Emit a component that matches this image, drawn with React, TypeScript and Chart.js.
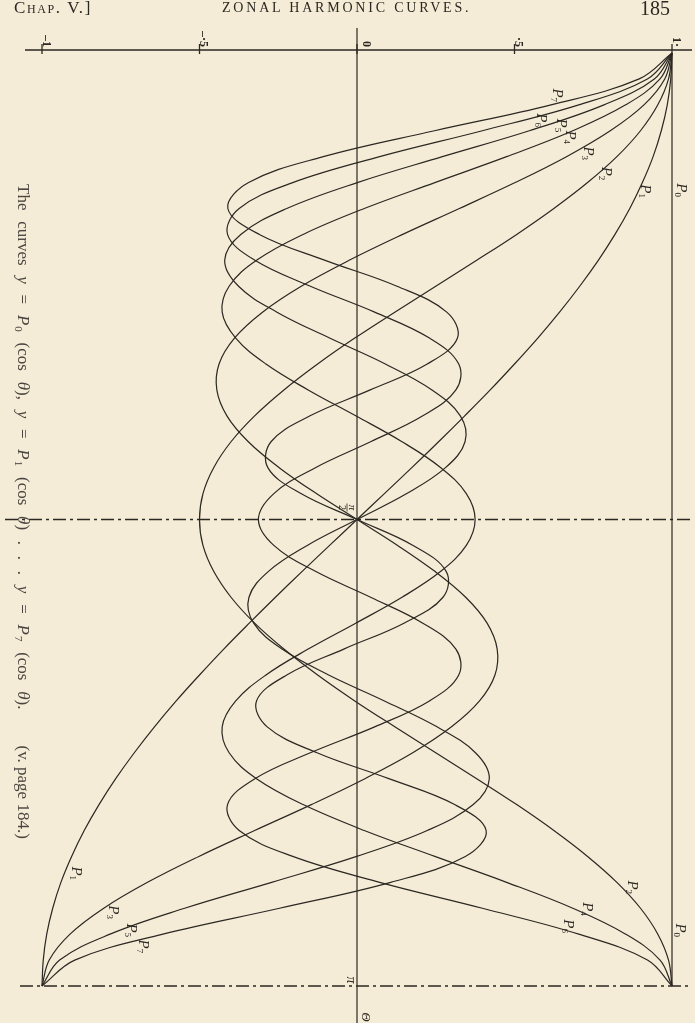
import React, { useEffect, useRef } from "react";
import { Chart, registerables } from "chart.js";

Chart.register(...registerables);

// θ in degrees (vertical axis, 0 at top, 180 at bottom)
const THETA_DEG = [0, 5, 10, 15, 20, 25, 30, 35, 40, 45, 50, 55, 60, 65, 70, 75, 80, 85, 90, 95, 100, 105, 110, 115, 120, 125, 130, 135, 140, 145, 150, 155, 160, 165, 170, 175, 180];

// y = P_n(cos θ) values
const P0 = [1, 1, 1, 1, 1, 1, 1, 1, 1, 1, 1, 1, 1, 1, 1, 1, 1, 1, 1, 1, 1, 1, 1, 1, 1, 1, 1, 1, 1, 1, 1, 1, 1, 1, 1, 1, 1];
const P1 = [1, 0.996, 0.985, 0.966, 0.94, 0.906, 0.866, 0.819, 0.766, 0.707, 0.643, 0.574, 0.5, 0.423, 0.342, 0.259, 0.174, 0.087, 0, -0.087, -0.174, -0.259, -0.342, -0.423, -0.5, -0.574, -0.643, -0.707, -0.766, -0.819, -0.866, -0.906, -0.94, -0.966, -0.985, -0.996, -1];
const P2 = [1, 0.989, 0.955, 0.9, 0.825, 0.732, 0.625, 0.507, 0.38, 0.25, 0.12, -0.007, -0.125, -0.232, -0.325, -0.4, -0.455, -0.489, -0.5, -0.489, -0.455, -0.4, -0.325, -0.232, -0.125, -0.007, 0.12, 0.25, 0.38, 0.507, 0.625, 0.732, 0.825, 0.9, 0.955, 0.989, 1];
const P3 = [1, 0.977, 0.911, 0.804, 0.665, 0.502, 0.325, 0.145, -0.025, -0.177, -0.3, -0.389, -0.438, -0.445, -0.413, -0.345, -0.247, -0.129, 0, 0.129, 0.247, 0.345, 0.413, 0.445, 0.438, 0.389, 0.3, 0.177, 0.025, -0.145, -0.325, -0.502, -0.665, -0.804, -0.911, -0.977, -1];
const P4 = [1, 0.962, 0.853, 0.685, 0.475, 0.247, 0.023, -0.171, -0.319, -0.406, -0.428, -0.385, -0.289, -0.155, -0.004, 0.143, 0.266, 0.347, 0.375, 0.347, 0.266, 0.143, -0.004, -0.155, -0.289, -0.385, -0.428, -0.406, -0.319, -0.171, 0.023, 0.247, 0.475, 0.685, 0.853, 0.962, 1];
const P5 = [1, 0.944, 0.784, 0.547, 0.271, 0.001, -0.223, -0.369, -0.42, -0.376, -0.254, -0.087, 0.09, 0.238, 0.328, 0.343, 0.281, 0.158, 0, -0.158, -0.281, -0.343, -0.328, -0.238, -0.09, 0.087, 0.254, 0.376, 0.42, 0.369, 0.223, -0.001, -0.271, -0.547, -0.784, -0.944, -1];
const P6 = [1, 0.922, 0.704, 0.398, 0.072, -0.204, -0.374, -0.411, -0.324, -0.148, 0.056, 0.23, 0.323, 0.314, 0.209, 0.043, -0.132, -0.264, -0.313, -0.264, -0.132, 0.043, 0.209, 0.314, 0.323, 0.23, 0.056, -0.148, -0.324, -0.411, -0.374, -0.204, 0.072, 0.398, 0.704, 0.922, 1];
const P7 = [1, 0.896, 0.616, 0.246, -0.107, -0.344, -0.41, -0.31, -0.101, 0.127, 0.285, 0.319, 0.223, 0.042, -0.149, -0.273, -0.283, -0.178, 0, 0.178, 0.283, 0.273, 0.149, -0.042, -0.223, -0.319, -0.285, -0.127, 0.101, 0.31, 0.41, 0.344, 0.107, -0.246, -0.616, -0.896, -1];

const SERIES = [P0, P1, P2, P3, P4, P5, P6, P7];

// top axis ticks
const X_TICKS = [-1, -0.5, 0, 0.5, 1];
const X_TICK_LABELS = ["\u20131", "\u2013\u00b75", "0", "\u00b75", "1\u00b7"];

// curve labels: subscript n, placed at (value, θ)
const LABEL_N = [7, 6, 5, 4, 3, 2, 1, 0, 1, 3, 5, 7, 2, 4, 6, 0];
const LABEL_V = [0.635, 0.584, 0.648, 0.676, 0.733, 0.79, 0.914, 1.029, -0.892, -0.775, -0.717, -0.679, 0.873, 0.73, 0.67, 1.025];
const LABEL_T = [8.1, 12.9, 13.9, 16.2, 19.3, 23.2, 26.6, 26.4, 158.2, 165.7, 169.2, 172.3, 160.9, 165.1, 168.4, 169.2];

const INK = "#2b2722";
const PAPER = "#f4ecd6";
const SERIF = '"Liberation Serif", "DejaVu Serif", serif';

function strokeLine(ctx: CanvasRenderingContext2D, x1: number, y1: number, x2: number, y2: number) {
  ctx.beginPath();
  ctx.moveTo(x1, y1);
  ctx.lineTo(x2, y2);
  ctx.stroke();
}

function drawP(ctx: CanvasRenderingContext2D, x: number, y: number, n: number) {
  ctx.save();
  ctx.translate(x, y);
  ctx.rotate(Math.PI / 2);
  ctx.fillStyle = INK;
  ctx.textBaseline = "middle";
  ctx.textAlign = "left";
  ctx.font = `italic 15px ${SERIF}`;
  const w = ctx.measureText("P").width;
  ctx.fillText("P", -w / 2 - 2, 0);
  ctx.font = `9px ${SERIF}`;
  ctx.fillText(String(n), w / 2 - 2, 4);
  ctx.restore();
}

function drawRotatedText(ctx: CanvasRenderingContext2D, text: string, x: number, y: number, font: string, align: CanvasTextAlign) {
  ctx.save();
  ctx.translate(x, y);
  ctx.rotate(Math.PI / 2);
  ctx.font = font;
  ctx.fillStyle = INK;
  ctx.textAlign = align;
  ctx.textBaseline = "middle";
  ctx.fillText(text, 0, 0);
  ctx.restore();
}

const guides = {
  id: "guides",
  beforeDatasetsDraw(chart: any) {
    const ctx: CanvasRenderingContext2D = chart.ctx;
    const xs = chart.scales.x;
    const ys = chart.scales.y;
    const x0 = xs.getPixelForValue(0);
    const yTop = ys.getPixelForValue(0);
    const yMid = ys.getPixelForValue(90);
    const yBot = ys.getPixelForValue(180);
    ctx.save();
    ctx.strokeStyle = INK;
    // top value axis
    ctx.lineWidth = 1.6;
    strokeLine(ctx, 25, yTop - 3, 692, yTop - 3);
    ctx.lineWidth = 1.3;
    X_TICKS.forEach((v) => {
      const x = xs.getPixelForValue(v);
      strokeLine(ctx, x, yTop - 9, x, yTop + 1);
    });
    // θ axis
    ctx.lineWidth = 1.2;
    strokeLine(ctx, x0, yTop - 25, x0, 1023);
    // dash-dot lines at π/2 and π
    ctx.lineWidth = 1.4;
    ctx.setLineDash([13, 4, 3, 4]);
    strokeLine(ctx, 5, yMid, 692, yMid);
    strokeLine(ctx, 20, yBot, 692, yBot);
    ctx.setLineDash([]);
    ctx.restore();

    // tick labels
    X_TICKS.forEach((v, i) => {
      const x = xs.getPixelForValue(v) + (v === 0 ? 9 : 4);
      drawRotatedText(ctx, X_TICK_LABELS[i], x, yTop - 6, `bold 12px ${SERIF}`, "right");
    });
  },
  afterDatasetsDraw(chart: any) {
    const ctx: CanvasRenderingContext2D = chart.ctx;
    const xs = chart.scales.x;
    const ys = chart.scales.y;
    const x0 = xs.getPixelForValue(0);
    const yMid = ys.getPixelForValue(90);
    const yBot = ys.getPixelForValue(180);
    LABEL_N.forEach((n, i) => {
      drawP(ctx, xs.getPixelForValue(LABEL_V[i]), ys.getPixelForValue(LABEL_T[i]), n);
    });
    // π/2 fraction
    ctx.save();
    ctx.translate(x0 - 10, yMid - 12);
    ctx.rotate(Math.PI / 2);
    ctx.fillStyle = INK;
    ctx.strokeStyle = INK;
    ctx.lineWidth = 0.8;
    ctx.textAlign = "center";
    ctx.textBaseline = "middle";
    ctx.font = `italic 11px ${SERIF}`;
    ctx.fillText("\u03c0", 0, -5);
    strokeLine(ctx, -4, 0, 4, 0);
    ctx.font = `10px ${SERIF}`;
    ctx.fillText("2", 0, 5);
    ctx.restore();
    // π and Θ
    drawRotatedText(ctx, "\u03c0", x0 - 6, yBot - 6, `italic 14px ${SERIF}`, "center");
    drawRotatedText(ctx, "\u0398", x0 + 8, yBot + 31, `italic 13px ${SERIF}`, "center");
  },
};

export default function App() {
  const canvasRef = useRef<HTMLCanvasElement | null>(null);

  useEffect(() => {
    const canvas = canvasRef.current;
    if (!canvas) return;
    const datasets = SERIES.map((vals, n) => ({
      label: `P${n}`,
      data: THETA_DEG.map((t, i) => ({ x: vals[i], y: t })),
      showLine: true,
      borderColor: INK,
      borderWidth: 1.2,
      pointRadius: 0,
      tension: 0.38,
      fill: false,
      clip: 8,
    }));
    const chart = new Chart(canvas, {
      type: "scatter",
      data: { datasets },
      options: {
        responsive: false,
        animation: false,
        events: [],
        layout: { padding: { left: 42, right: 23, top: 53, bottom: 37 } },
        plugins: { legend: { display: false }, tooltip: { enabled: false } },
        scales: {
          x: { type: "linear", min: -1, max: 1, display: false },
          y: { type: "linear", min: 0, max: 180, reverse: true, display: false },
        },
      },
      plugins: [guides],
    });
    return () => chart.destroy();
  }, []);

  const sub = { fontSize: 11, verticalAlign: "-3px", marginLeft: 1 } as React.CSSProperties;

  return (
    <div style={{ position: "absolute", left: 0, top: 0, width: 695, height: 1023, background: PAPER, overflow: "hidden", color: INK, fontFamily: SERIF }}>
      <canvas ref={canvasRef} width={695} height={1023} style={{ position: "absolute", left: 0, top: 0, display: "block" }} />
      <div style={{ position: "absolute", left: 14, top: -2, fontSize: 17, fontVariant: "small-caps", letterSpacing: 1.6, whiteSpace: "nowrap" }}>Chap. V.]</div>
      <div style={{ position: "absolute", left: 222, top: 0, fontSize: 14, letterSpacing: 2.8, whiteSpace: "nowrap" }}>ZONAL HARMONIC CURVES.</div>
      <div style={{ position: "absolute", left: 640, top: -3, fontSize: 20 }}>185</div>
      <div
        style={{
          position: "absolute",
          left: 33,
          top: 184,
          transform: "rotate(90deg)",
          transformOrigin: "0 0",
          whiteSpace: "nowrap",
          fontSize: 17,
          lineHeight: "20px",
          wordSpacing: 6.5,
          color: "#4a4540",
        }}
      >
        The curves <i>y</i> = <i>P</i>
        <span style={sub}>0</span> (cos <i>θ</i>), <i>y</i> = <i>P</i>
        <span style={sub}>1</span> (cos <i>θ</i>) . . . <i>y</i> = <i>P</i>
        <span style={sub}>7</span> (cos <i>θ</i>).
        <span style={{ marginLeft: 36, wordSpacing: 0 }}>(v. page 184.)</span>
      </div>
    </div>
  );
}
